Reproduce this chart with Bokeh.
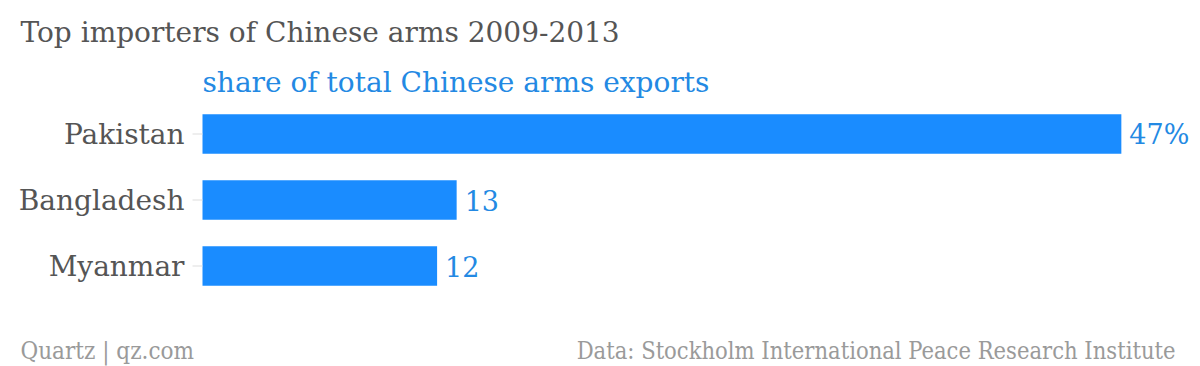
import math
from bokeh.plotting import figure
from bokeh.models import Range1d, Label, ColumnDataSource
from bokeh.core.properties import value
from bokeh.embed import file_html
from bokeh.resources import INLINE

countries = ["Pakistan", "Bangladesh", "Myanmar"]
shares = [47, 13, 12]
value_labels = ["47%", "13", "12"]

title_text = "Top importers of Chinese arms 2009-2013"
subtitle_text = "share of total Chinese arms exports"
footer_left = "Quartz | qz.com"
footer_right = "Data: Stockholm International Peace Research Institute"

SERIF = "DejaVu Serif"
COND = "DejaVu Serif Condensed"
BLUE = "#1a8cff"
TXTBLUE = "#2389e3"
W, H = 1200, 366
X0 = 202            # canvas x of value 0
PX_PER_UNIT = 19.55  # horizontal scale
ROW = 66             # pixels per category row
ROW0 = 265.5         # canvas y of the last category centre

# category rows: first category on top
pos = [len(countries) - 1 - i for i in range(len(countries))]
src = ColumnDataSource(dict(pos=pos, country=countries, share=shares, label=value_labels))

p = figure(width=W, height=H, output_backend="svg", toolbar_location=None,
           x_range=Range1d(-X0 / PX_PER_UNIT, (W - X0) / PX_PER_UNIT),
           y_range=Range1d(-(H - ROW0) / ROW, ROW0 / ROW),
           min_border=0)
p.axis.visible = False
p.grid.visible = False
p.outline_line_color = None
p.background_fill_color = "white"
p.border_fill_color = "white"

p.hbar(y="pos", right="share", left=0, height=0.6, source=src, color=BLUE, line_color=None)
p.text(x="share", y="pos", text="label", source=src, x_offset=8,
       text_baseline="middle", text_align="left", text_color=TXTBLUE,
       text_font=value(SERIF), text_font_size="27px")
# category tick marks and labels
p.ray(x=0, y="pos", source=src, length=10, length_units="screen", angle=math.pi,
      line_color="#dddddd", line_width=1)
p.text(x=0, y="pos", text="country", source=src, x_offset=-18,
       text_baseline="middle", text_align="right", text_color="#555555",
       text_font=value(SERIF), text_font_size="28px")


def lab(text, cx, cy, size, color, font=SERIF, align="left"):
    # position given in canvas pixels (from top-left)
    p.add_layout(Label(x=cx, y=H - cy, x_units="screen", y_units="screen", text=text,
                       text_font=font, text_font_size=size, text_color=color,
                       text_baseline="middle", text_align=align))


lab(title_text, 20, 32, "28px", "#555555")
lab(subtitle_text, 202, 82, "28px", TXTBLUE)
lab(footer_left, 20, 350, "24px", "#9a9a9a", font=COND)
lab(footer_right, 1175, 350, "23.5px", "#9a9a9a", font=COND, align="right")

open("out.html", "w").write(file_html(p, INLINE))
